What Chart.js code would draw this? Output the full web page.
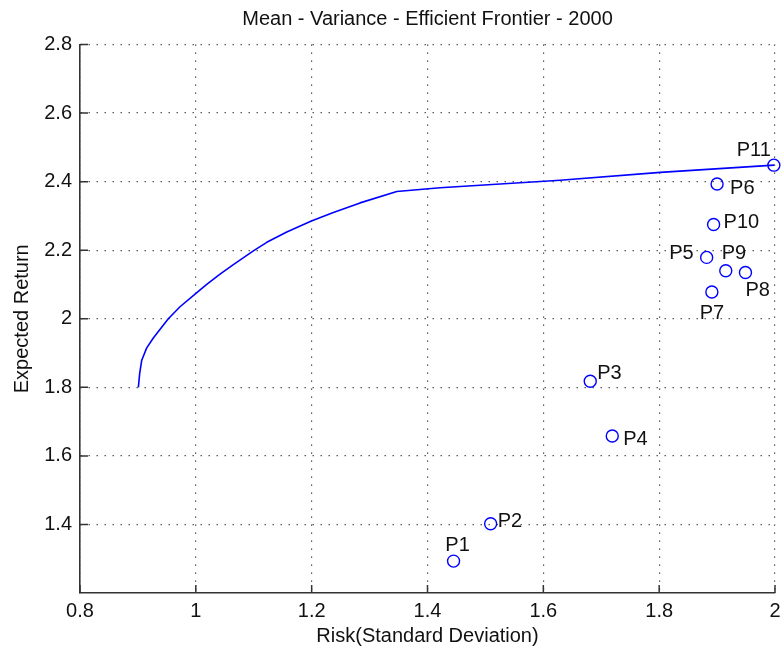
<!DOCTYPE html>
<html>
<head>
<meta charset="utf-8">
<title>Mean - Variance - Efficient Frontier - 2000</title>
<script src="https://cdn.jsdelivr.net/npm/chart.js@4/dist/chart.umd.min.js"></script>
<style>
  html, body { margin: 0; padding: 0; background: #fff; }
  #wrap { width: 783px; height: 652px; }
</style>
</head>
<body>
<div id="wrap"><canvas id="frontierChart" width="783" height="652"></canvas></div>
<script>
// Efficient frontier curve (risk vs expected return)
const frontierRisk = [0.9008, 0.9030, 0.9066, 0.9152, 0.9266, 0.9400, 0.9525, 0.9727, 0.9986, 1.0188,
    1.0418, 1.0648, 1.0993, 1.1225, 1.157, 1.1995, 1.2375, 1.2836, 1.347, 1.4218, 1.629, 1.802, 1.9986];
const frontierReturn = [1.800, 1.840, 1.879, 1.915, 1.944, 1.973, 2.000, 2.035, 2.072, 2.100,
    2.130, 2.158, 2.198, 2.223, 2.253, 2.285, 2.310, 2.338, 2.371, 2.382, 2.404, 2.427, 2.448];

// Individual portfolios
const portfolioNames = ['P1', 'P2', 'P3', 'P4', 'P5', 'P6', 'P7', 'P8', 'P9', 'P10', 'P11'];
const portfolioRisk = [1.445, 1.509, 1.681, 1.719, 1.882, 1.900, 1.891, 1.949, 1.915, 1.894, 1.998];
const portfolioReturn = [1.293, 1.402, 1.8175, 1.658, 2.179, 2.393, 2.078, 2.135, 2.140, 2.275, 2.448];

// Axis ticks
const xTickValues = [0.8, 1, 1.2, 1.4, 1.6, 1.8, 2];
const xTickLabels = ['0.8', '1', '1.2', '1.4', '1.6', '1.8', '2'];
const yTickValues = [1.4, 1.6, 1.8, 2, 2.2, 2.4, 2.6, 2.8];
const yTickLabels = ['1.4', '1.6', '1.8', '2', '2.2', '2.4', '2.6', '2.8'];

// where each portfolio name sits relative to its marker
const labelPlacement = {
    P1: {dx: 4, dy: -16, align: 'center'},
    P2: {dx: 7, dy: -2, align: 'left'},
    P3: {dx: 7, dy: -8, align: 'left'},
    P4: {dx: 11, dy: 3, align: 'left'},
    P5: {dx: -13, dy: -4, align: 'right'},
    P6: {dx: 13, dy: 4, align: 'left'},
    P7: {dx: 0, dy: 21, align: 'center'},
    P8: {dx: 0, dy: 18, align: 'left'},
    P9: {dx: -4, dy: -17, align: 'left'},
    P10: {dx: 10, dy: -2, align: 'left'},
    P11: {dx: -3, dy: -15, align: 'right'}
};

const axisColor = '#333333';
const textColor = '#111111';

Chart.defaults.font.family = '"Liberation Sans", Arial, Helvetica, sans-serif';
Chart.defaults.font.size = 20;
Chart.defaults.color = textColor;

// short tick marks pointing into the plot, like the usual matlab axes
const innerTicks = {
    id: 'innerTicks',
    afterDraw(chart) {
        const {ctx, chartArea} = chart;
        const xs = chart.scales.x;
        const ys = chart.scales.y;
        ctx.save();
        ctx.strokeStyle = axisColor;
        ctx.lineWidth = 1.5;
        ctx.beginPath();
        xs.ticks.forEach(t => {
            const px = xs.getPixelForValue(t.value);
            ctx.moveTo(px, chartArea.bottom);
            ctx.lineTo(px, chartArea.bottom - 8);
        });
        ys.ticks.forEach(t => {
            const py = ys.getPixelForValue(t.value);
            ctx.moveTo(chartArea.left, py);
            ctx.lineTo(chartArea.left + 8, py);
        });
        ctx.stroke();
        ctx.restore();
    }
};

// names next to the portfolio markers
const pointNames = {
    id: 'pointNames',
    afterDatasetsDraw(chart) {
        const {ctx} = chart;
        const meta = chart.getDatasetMeta(1);
        ctx.save();
        ctx.font = '20px "Liberation Sans", Arial, sans-serif';
        ctx.fillStyle = textColor;
        ctx.textBaseline = 'middle';
        meta.data.forEach((pt, i) => {
            const name = portfolioNames[i];
            const p = labelPlacement[name];
            ctx.textAlign = p.align;
            ctx.fillText(name, pt.x + p.dx, pt.y + p.dy);
        });
        ctx.restore();
    }
};

const ctx = document.getElementById('frontierChart').getContext('2d');
new Chart(ctx, {
    type: 'scatter',
    data: {
        datasets: [
            {
                label: 'Efficient Frontier',
                data: frontierRisk.map((r, i) => ({x: r, y: frontierReturn[i]})),
                showLine: true,
                borderColor: '#0000ff',
                borderWidth: 1.6,
                borderJoinStyle: 'round',
                pointRadius: 0,
                tension: 0,
                clip: false
            },
            {
                label: 'Portfolios',
                data: portfolioRisk.map((r, i) => ({x: r, y: portfolioReturn[i]})),
                showLine: false,
                pointStyle: 'circle',
                pointRadius: 6,
                pointBorderWidth: 1.4,
                pointBorderColor: '#0000ff',
                pointBackgroundColor: 'rgba(0,0,0,0)',
                clip: false
            }
        ]
    },
    options: {
        responsive: false,
        animation: false,
        layout: {padding: {left: 0, right: 8, top: 0, bottom: 0}},
        plugins: {
            legend: {display: false},
            tooltip: {enabled: false},
            title: {
                display: true,
                text: 'Mean - Variance - Efficient Frontier - 2000',
                fullSize: false,
                color: textColor,
                font: {size: 20, weight: 'normal'},
                padding: {top: 7, bottom: 13.5}
            }
        },
        scales: {
            x: {
                type: 'linear',
                min: 0.8,
                max: 2,
                afterBuildTicks: scale => { scale.ticks = xTickValues.map(v => ({value: v})); },
                afterFit: scale => {
                    scale.height = 59;
                    scale.paddingLeft = 0;
                    scale.paddingRight = 0;
                },
                ticks: {
                    callback: (value, index) => xTickLabels[index],
                    padding: 6,
                    color: textColor,
                    maxRotation: 0,
                    font: {size: 20}
                },
                grid: {
                    color: axisColor,
                    lineWidth: 1.2,
                    drawTicks: false,
                    borderDash: [1.2, 6.8]
                },
                border: {display: true, color: axisColor, width: 1.6, dash: [1.2, 6.8]},
                title: {
                    display: true,
                    text: 'Risk(Standard Deviation)',
                    color: textColor,
                    font: {size: 20},
                    padding: {top: 3, bottom: 4}
                }
            },
            y: {
                type: 'linear',
                min: 1.2,
                max: 2.8,
                afterBuildTicks: scale => { scale.ticks = yTickValues.map(v => ({value: v})); },
                afterFit: scale => {
                    scale.width = 80;
                    scale.paddingTop = 0;
                    scale.paddingBottom = 0;
                },
                ticks: {
                    callback: (value, index) => yTickLabels[index],
                    padding: 8,
                    color: textColor,
                    font: {size: 20}
                },
                grid: {
                    color: axisColor,
                    lineWidth: 1.2,
                    drawTicks: false,
                    borderDash: [1.2, 6.8]
                },
                border: {display: true, color: axisColor, width: 1.6, dash: [1.2, 6.8]},
                title: {
                    display: true,
                    text: 'Expected Return',
                    color: textColor,
                    font: {size: 20},
                    padding: {top: 10, bottom: 4}
                }
            }
        }
    },
    plugins: [innerTicks, pointNames]
});
</script>
</body>
</html>
